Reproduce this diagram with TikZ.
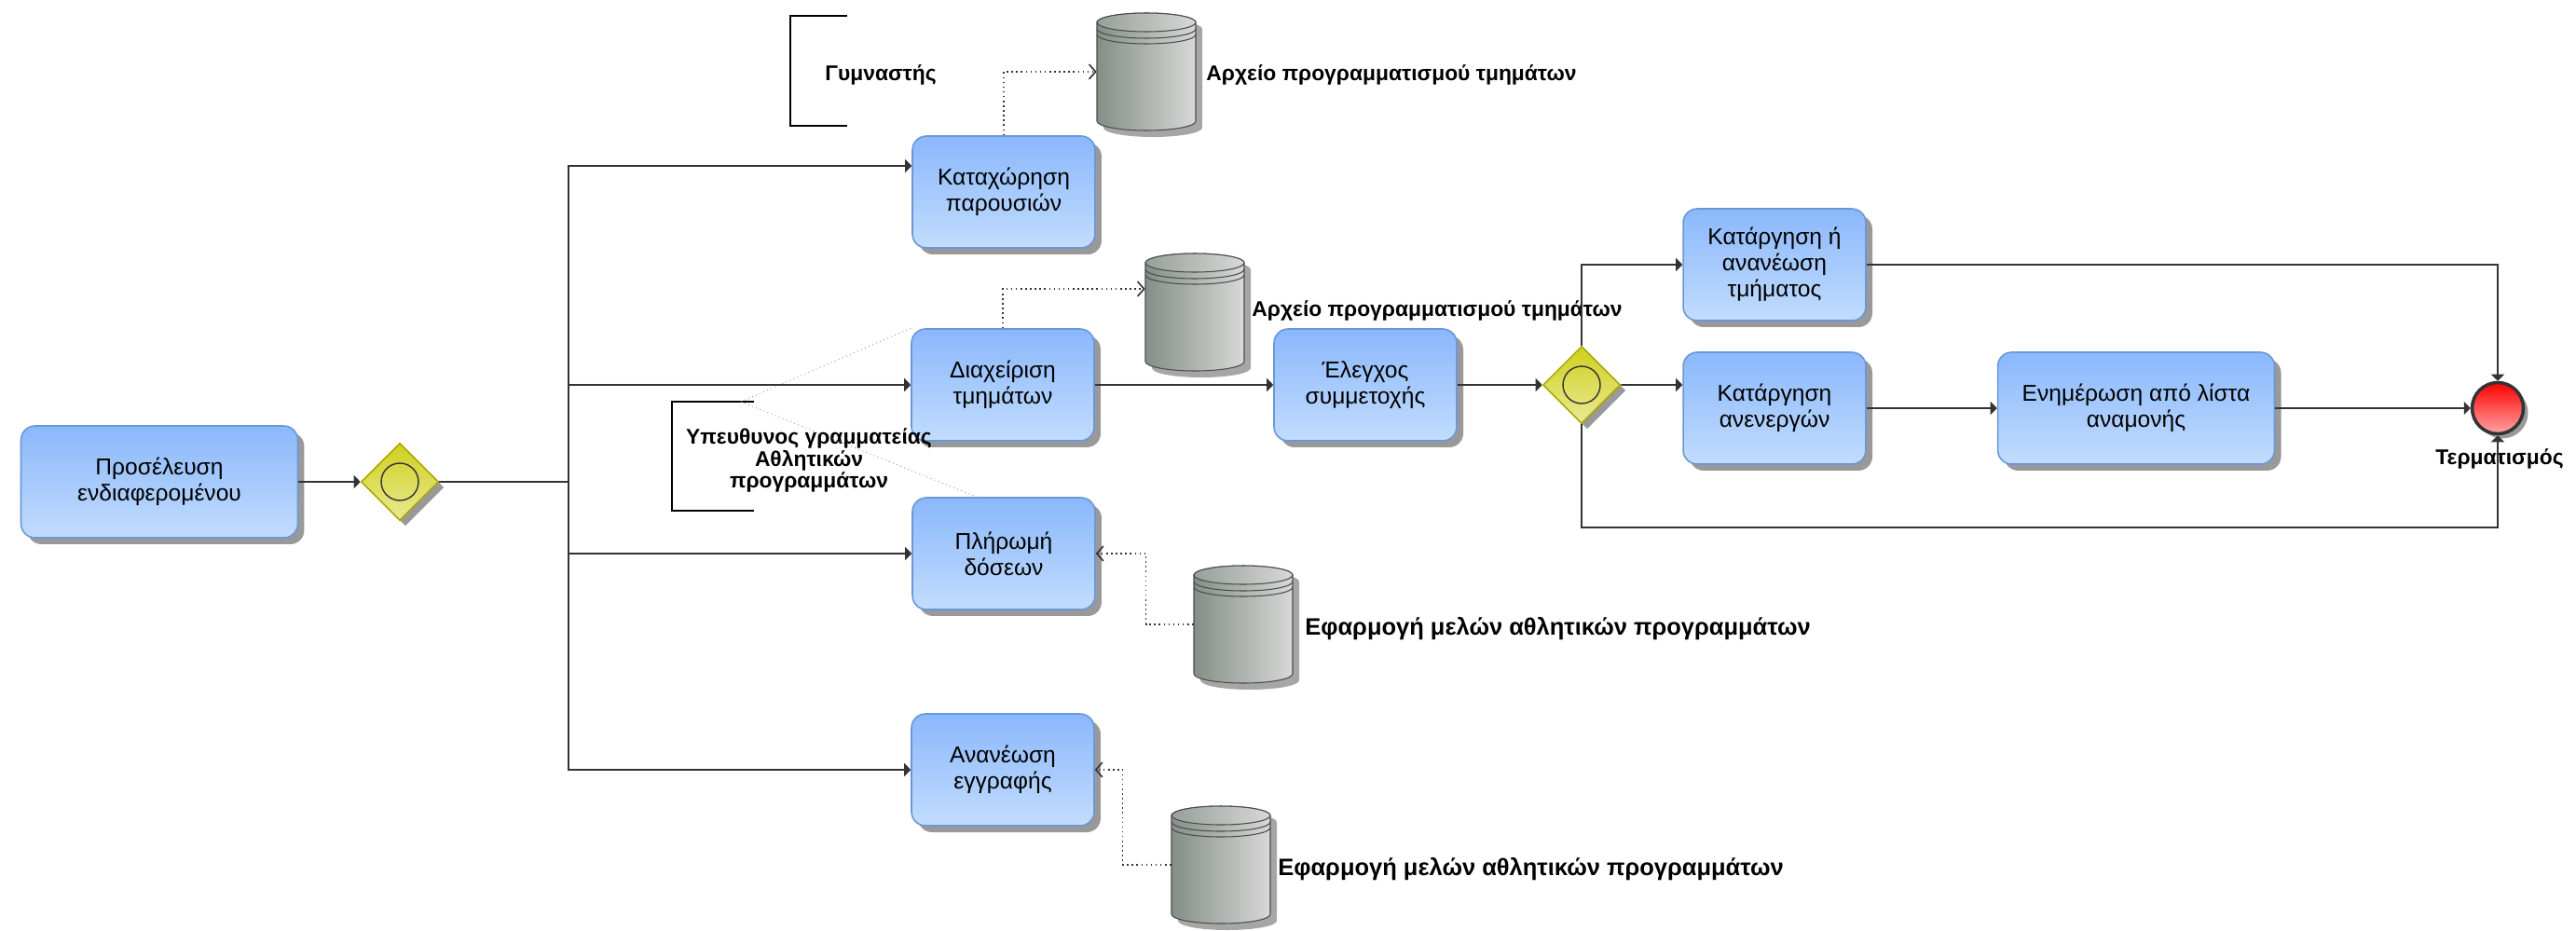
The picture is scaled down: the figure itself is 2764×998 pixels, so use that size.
\documentclass[tikz,border=0pt]{standalone}
\usepackage{fontspec}
\setmainfont{Liberation Sans}
\usepackage{tikz}
\usetikzlibrary{shapes.geometric,arrows.meta,shadows}

\definecolor{tasktop}{HTML}{8AB8FC}
\definecolor{taskbot}{HTML}{C2DCFD}
\definecolor{taskline}{HTML}{6B97D6}
\definecolor{gatetop}{HTML}{CFCF1E}
\definecolor{gatebot}{HTML}{EAEA94}
\definecolor{gateline}{HTML}{A9A900}
\definecolor{storedark}{HTML}{848F86}
\definecolor{storelight}{HTML}{D8D8D8}
\definecolor{flowgray}{HTML}{333333}

\tikzset{
  task/.style={draw=taskline, line width=0.9pt, rounded corners=0.3cm,
    top color=tasktop, bottom color=taskbot, minimum width=3.92cm,
    minimum height=2.4cm, align=center, font=\fontsize{14}{16}\selectfont,
    drop shadow={shadow xshift=0.14cm, shadow yshift=-0.14cm, fill=black!40, opacity=1}},
  widetask/.style={task, minimum width=5.94cm},
  gateway/.style={diamond, draw=gateline, line width=0.9pt, top color=gatetop,
    bottom color=gatebot, minimum width=1.66cm, minimum height=1.66cm, inner sep=0pt,
    drop shadow={shadow xshift=0.12cm, shadow yshift=-0.12cm, fill=black!40, opacity=1}},
  endevent/.style={circle, draw=flowgray, line width=2pt, top color=red,
    bottom color=red!35, minimum size=1.1cm, inner sep=0pt,
    drop shadow={shadow xshift=0.1cm, shadow yshift=-0.1cm, fill=black!40, opacity=1}},
  txt/.style={font=\bfseries\fontsize{13}{13.6}\selectfont, inner sep=0pt, align=center},
  bigtxt/.style={txt, font=\bfseries\fontsize{14.5}{16}\selectfont},
  storebody/.style={minimum width=2.12cm, minimum height=2.54cm, inner sep=0pt},
  seqline/.style={line width=1.1pt, draw=flowgray},
  flow/.style={seqline, -{Triangle[length=4pt,width=8pt]}},
  assoc/.style={dotted, line width=0.9pt, draw=flowgray, -{Straight Barb[length=4pt,width=9pt]}},
  faint/.style={dotted, line width=0.5pt, draw=black!45},
  bracket/.style={line width=1.6pt}
}

\newcommand{\datastore}[2]{%
  \node[storebody] (#1) at (#2) {};
  \begin{scope}[shift={(#2)}]
    \fill[black!35] (-46,-46) -- (-46,60)
      arc[start angle=180,end angle=360,x radius=1.06cm,y radius=0.2cm] -- (60,-46)
      arc[start angle=0,end angle=180,x radius=1.06cm,y radius=0.2cm] -- cycle;
    \shadedraw[left color=storedark, right color=storelight, draw=black!70, line width=0.6pt]
      (-53,-53) -- (-53,53)
      arc[start angle=180,end angle=360,x radius=1.06cm,y radius=0.2cm] -- (53,-53)
      arc[start angle=0,end angle=180,x radius=1.06cm,y radius=0.2cm] -- cycle;
    \shadedraw[left color=storedark!85!white, right color=storelight, draw=black!70, line width=0.6pt]
      (0,-53) ellipse [x radius=1.06cm, y radius=0.2cm];
    \draw[black!70, line width=0.6pt] (-53,-46) arc[start angle=180,end angle=360,x radius=1.06cm,y radius=0.2cm];
    \draw[black!70, line width=0.6pt] (-53,-40) arc[start angle=180,end angle=360,x radius=1.06cm,y radius=0.2cm];
  \end{scope}}

\begin{document}
\begin{tikzpicture}[x=0.02cm, y=-0.02cm]
  \useasboundingbox (0,0) rectangle (2764,998);

  % tasks and gateways
  \node[widetask] (arr) at (171,517) {Προσέλευση\\ενδιαφερομένου};
  \node[gateway] (G1) at (429,517) {};
  \node[task] (reg) at (1077,206) {Καταχώρηση\\παρουσιών};
  \node[task] (mgmt) at (1076,413) {Διαχείριση\\τμημάτων};
  \node[task] (pay) at (1077,594) {Πλήρωμή\\δόσεων};
  \node[task] (ren) at (1076,826) {Ανανέωση\\εγγραφής};
  \node[task] (chk) at (1465,413) {Έλεγχος\\συμμετοχής};
  \node[gateway] (G2) at (1697,413) {};
  \node[task] (del) at (1904,284) {Κατάργηση ή\\ανανέωση\\τμήματος};
  \node[task] (inact) at (1904,438) {Κατάργηση\\ανενεργών};
  \node[widetask] (wait) at (2292,438) {Ενημέρωση από λίστα\\αναμονής};
  \node[endevent] (end) at (2680,438) {};
  \draw[black!80, line width=0.8pt] (G1.center) circle [radius=0.4cm];
  \draw[black!80, line width=0.8pt] (G2.center) circle [radius=0.4cm];

  % annotations
  \node[txt] (N1) at (945,80) {Γυμναστής};
  \draw[bracket] (909,17) -- (848,17) -- (848,135) -- (909,135);
  \node[txt] (N2) at (868,494) {Υπευθυνος γραμματείας\\Αθλητικών\\προγραμμάτων};
  \draw[bracket] (809,431) -- (721,431) -- (721,548) -- (809,548);
  \coordinate (A2) at (795,431);
  \draw[faint] (A2) -- (mgmt.north west);
  \draw[faint] (A2) -- ([xshift=-0.58cm]pay.north);

  % data stores
  \datastore{D1}{1230,77}
  \datastore{D2}{1282,335}
  \datastore{D3}{1334,670}
  \datastore{D4}{1310,928}
  \node[txt, anchor=west] (L1) at (1294,80) {Αρχείο προγραμματισμού τμημάτων};
  \node[txt, anchor=west] (L2) at (1343,333) {Αρχείο προγραμματισμού τμημάτων};
  \node[bigtxt, anchor=west] (L3) at (1400,675) {Εφαρμογή μελών αθλητικών προγραμμάτων};
  \node[bigtxt, anchor=west] (L4) at (1371,933) {Εφαρμογή μελών αθλητικών προγραμμάτων};
  \node[txt] (Lend) at (2682,492) {Τερματισμός};

  % sequence flows
  \coordinate (S1) at (610,517);
  \coordinate (B2) at (1697,566);
  \draw[flow] (arr.east) -- (G1.west);
  \draw[seqline] (G1.east) -- (S1);
  \draw[flow] (S1) |- ([yshift=0.56cm]reg.west);
  \draw[flow] (S1) |- (mgmt.west);
  \draw[flow] (S1) |- (pay.west);
  \draw[flow] (S1) |- (ren.west);
  \draw[flow] (mgmt.east) -- (chk.west);
  \draw[flow] (chk.east) -- (G2.west);
  \draw[flow] (G2.north) |- (del.west);
  \draw[flow] (G2.east) -- ([yshift=0.5cm]inact.west);
  \draw[flow] (inact.east) -- (wait.west);
  \draw[flow] (wait.east) -- (end.west);
  \draw[flow] (del.east) -| (end.north);
  \draw[flow] (G2.south) -- (B2) -| (end.south);

  % associations
  \draw[assoc] (reg.north) |- (D1.west);
  \draw[assoc] (mgmt.north) |- ([yshift=0.5cm]D2.west);
  \draw[assoc] (D3.west) -- ++(-51,0) |- (pay.east);
  \draw[assoc] (D4.west) -- ++(-52,0) |- (ren.east);
\end{tikzpicture}
\end{document}
